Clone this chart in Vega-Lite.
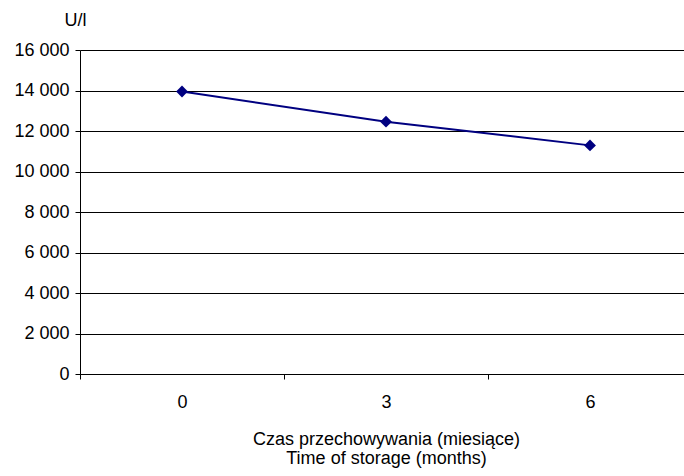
{
  "$schema": "https://vega.github.io/schema/vega-lite/v6.json",
  "autosize": "none",
  "width": 612,
  "height": 324,
  "padding": {"left": 80, "top": 50, "right": 0, "bottom": 102},
  "background": "white",
  "config": {
    "view": {"stroke": null},
    "font": "Liberation Sans",
    "axis": {"labelFont": "Liberation Sans", "titleFont": "Liberation Sans", "labelColor": "#000", "titleColor": "#000", "labelFontSize": 18, "titleFontSize": 18, "titleFontWeight": "normal", "domainColor": "#000", "tickColor": "#000"}
  },
  "data": {
    "values": [
      {"month": "0", "value": 13950},
      {"month": "3", "value": 12460},
      {"month": "6", "value": 11290}
    ]
  },
  "encoding": {
    "x": {
      "field": "month", "type": "ordinal", "sort": null,
      "scale": {"paddingInner": 0, "paddingOuter": 0},
      "axis": {
        "title": ["Czas przechowywania (miesiące)", "Time of storage (months)"],
        "labelAngle": 0, "tickBand": "extent", "tickSize": 5, "labelPadding": 14,
        "titlePadding": 19, "titleLineHeight": 19, "grid": false, "domainWidth": 1,
        "titleX": 306
      }
    },
    "y": {
      "field": "value", "type": "quantitative",
      "scale": {"domain": [0, 16000], "nice": false},
      "axis": {
        "values": [0, 2000, 4000, 6000, 8000, 10000, 12000, 14000, 16000],
        "labelExpr": "replace(format(datum.value, ','), ',', ' ')",
        "grid": true, "gridColor": "#000", "gridWidth": 1, "tickSize": 5, "labelPadding": 6,
        "title": "U/l", "titleAngle": 0, "titleAlign": "center", "titleBaseline": "alphabetic",
        "titleX": -5, "titleY": -25
      }
    }
  },
  "layer": [
    {"mark": {"type": "line", "color": "#000080", "strokeWidth": 2}},
    {"mark": {"type": "point", "shape": "diamond", "filled": true, "color": "#000080", "size": 140, "opacity": 1}}
  ]
}
